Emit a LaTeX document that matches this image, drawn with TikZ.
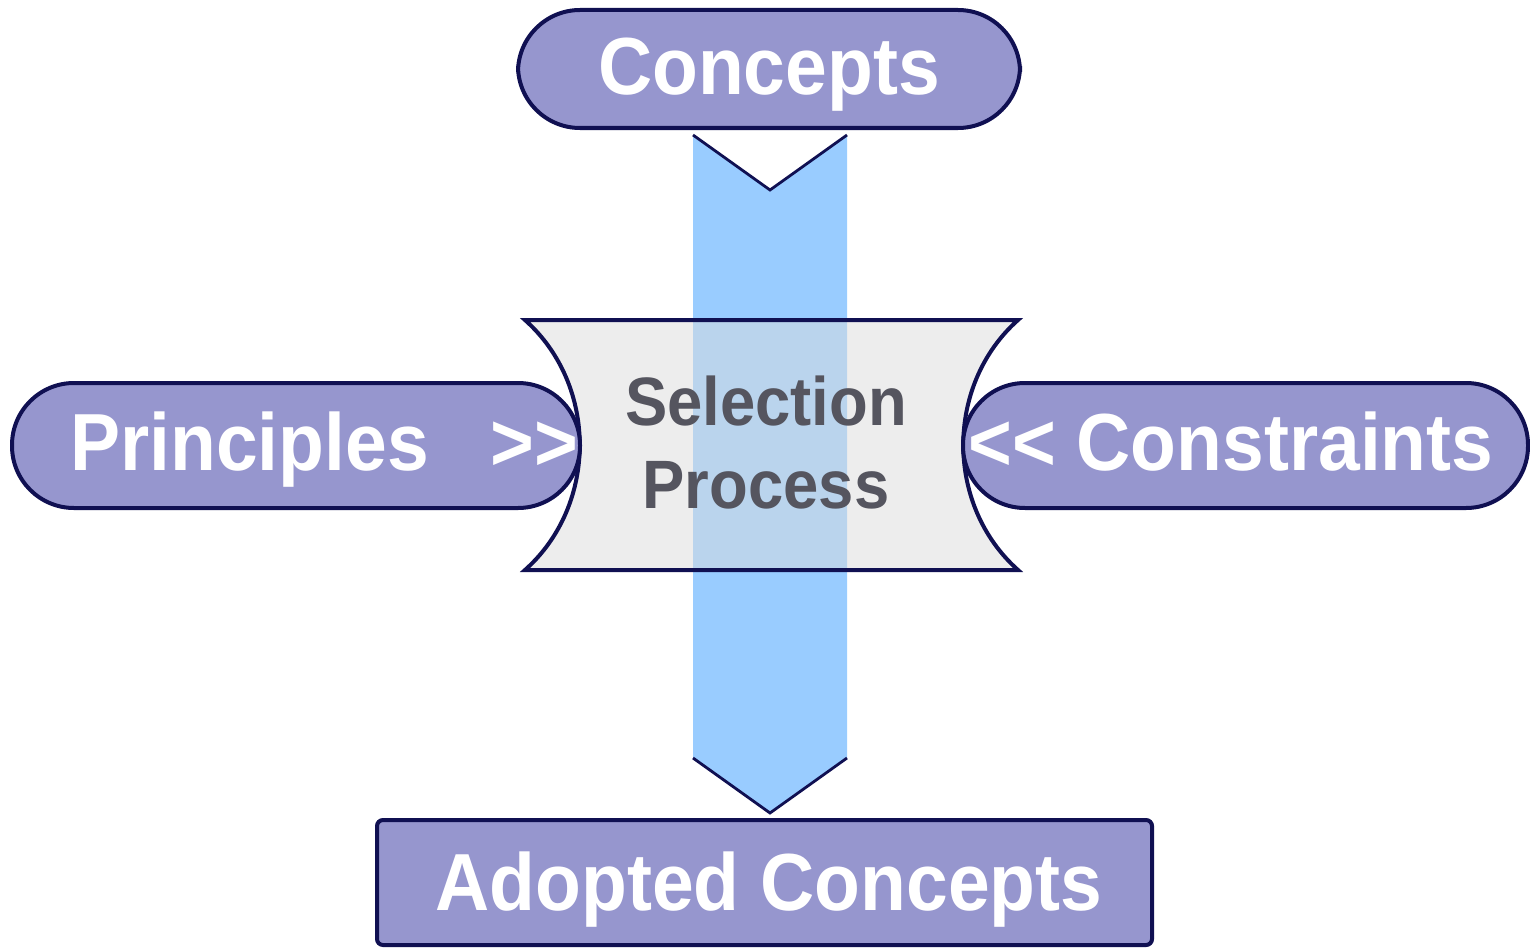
\documentclass[tikz,border=0pt]{standalone}
\usepackage{fontspec}
\usepackage{graphicx}
\setmainfont{Liberation Sans}
\definecolor{pillfill}{RGB}{150,150,206}
\definecolor{navy}{RGB}{16,16,82}
\definecolor{arrowblue}{RGB}{153,204,255}
\definecolor{selgrey}{RGB}{220,220,220}
\definecolor{seltext}{RGB}{85,85,95}
\newcommand{\tallish}[1]{\scalebox{1}[1.08]{#1}}
\begin{document}
\begin{tikzpicture}[x=0.5pt,y=-0.5pt,
  pill/.style={draw=navy,line width=2pt,fill=pillfill,inner sep=0pt,rounded corners=31pt},
  boxst/.style={draw=navy,line width=2pt,fill=pillfill,inner sep=0pt,rounded corners=3pt},
  wlabel/.style={text=white,font=\bfseries\fontsize{37.5}{40}\selectfont,inner sep=0pt},
  slabel/.style={text=seltext,font=\bfseries\fontsize{31.7}{41.5}\selectfont,inner sep=0pt,align=center},
  vline/.style={draw=navy,line width=1.4pt,line join=miter}]
\useasboundingbox (0,0) rectangle (1530,947);
% flow arrow
\coordinate (atl) at (693,135);
\coordinate (atn) at (770,190);
\coordinate (atr) at (847,135);
\coordinate (abr) at (847,758);
\coordinate (abt) at (770,813);
\coordinate (abl) at (693,758);
\fill[arrowblue] (atl) -- (atn) -- (atr) -- (abr) -- (abt) -- (abl) -- cycle;
\draw[vline] (atl) -- (atn) -- (atr);
\draw[vline] (abl) -- (abt) -- (abr);
% selection shape
\coordinate (stl) at (525,320);
\coordinate (str) at (1018,320);
\coordinate (sbr) at (1018,570);
\coordinate (sbl) at (525,570);
\fill[selgrey,opacity=0.5] (stl) -- (str) .. controls (945,385) and (945,505) .. (sbr) -- (sbl) .. controls (598,505) and (598,385) .. (stl) -- cycle;
\draw[navy,line width=2pt,line join=miter] (stl) -- (str) .. controls (945,385) and (945,505) .. (sbr) -- (sbl) .. controls (598,505) and (598,385) .. (stl) -- cycle;
\node[slabel,anchor=base] (sel1) at (766,425) {\tallish{Selection}};
\node[slabel,anchor=base] (sel2) at (766,508) {\tallish{Process}};
% pills
\node[pill,minimum width=251pt,minimum height=59pt] (concepts) at (769,69) {};
\node[pill,minimum width=284pt,minimum height=62.5pt] (prin) at (296,445.5) {};
\node[pill,minimum width=282.5pt,minimum height=62.5pt] (cons) at (1245.5,445.5) {};
\node[boxst,minimum width=387.5pt,minimum height=62.5pt] (adopt) at (764.5,882.5) {};
% labels
\node[wlabel,anchor=base] (conceptst) at (769,95) {\tallish{Concepts}};
\node[wlabel,anchor=base west] (print) at (70,470) {\tallish{Principles\hspace{31pt}>\kern0pt>}};
\node[wlabel,anchor=base west] (const) at (968,470) {\tallish{<\kern0pt< Constraints}};
\node[wlabel,anchor=base] (adoptt) at (769,910) {\tallish{Adopted Concepts}};
\end{tikzpicture}
\end{document}
